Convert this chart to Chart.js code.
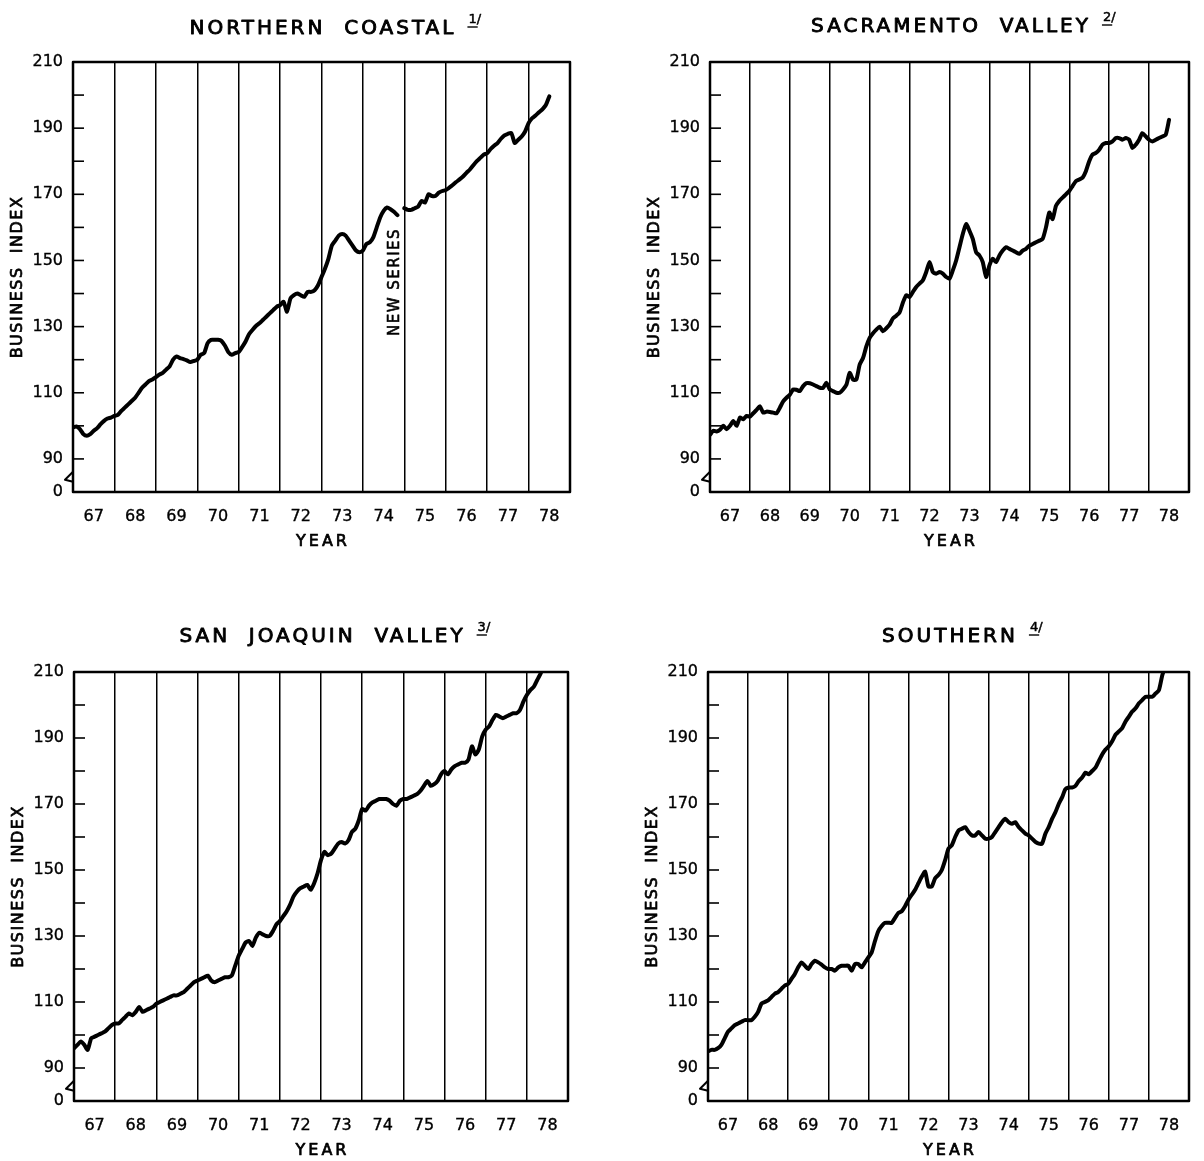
<!DOCTYPE html>
<html>
<head>
<meta charset="utf-8">
<title>Business Index by Region</title>
<script src="https://cdn.jsdelivr.net/npm/chart.js@4.4.0/dist/chart.umd.min.js"></script>
<style>
  body { margin: 0; background: #fff; }
  #wrap { position: relative; width: 1204px; height: 1161px; }
  #wrap canvas { position: absolute; left: 0; top: 0; }
</style>
</head>
<body>
<div id="wrap">
  <canvas id="northern" width="1204" height="1161"></canvas>
  <canvas id="sacramento" width="1204" height="1161"></canvas>
  <canvas id="joaquin" width="1204" height="1161"></canvas>
  <canvas id="southern" width="1204" height="1161"></canvas>
</div>
<script>
// monthly index, January 1967 onwards
var firstYear = 67;
var yearLabels = ['67', '68', '69', '70', '71', '72', '73', '74', '75', '76', '77', '78'];

var northernCoastal = [
  99.5, 99.8, 99, 97.5, 97, 97.5, 98.5, 99.3, 100.5, 101.5, 102.2, 102.5,
  103, 103.3, 104.5, 105.5, 106.5, 107.5, 108.5, 110, 111.5, 112.5, 113.5, 114,
  114.7, 115.5, 116, 117, 118, 120, 121, 120.5, 120.2, 119.8, 119.3, 119.6,
  120, 121.5, 122, 125, 126, 126, 126, 125.7, 124.3, 122.3, 121.5, 122,
  122.3, 123.8, 125.5, 127.7, 129, 130.2, 131, 132, 133, 134, 135, 136,
  136.5, 137.5, 134.5, 138.5, 139.5, 140, 139.5, 139, 140.5, 140.5, 141, 142.5,
  145, 147.5, 150.5, 154.5, 156, 157.5, 158, 157.5, 156, 154.5, 153, 152.5,
  153, 155, 155.5, 157, 160, 163, 165, 166, 165.5, 164.7, 163.7, null,
  165.8, 165.3, 165.3, 165.8, 166.3, 168, 167.5, 170, 169.5, 169.5, 170.5, 171,
  171.3, 172, 172.8, 173.7, 174.5, 175.4, 176.5, 177.5, 178.8, 180, 181, 182,
  182.4, 183.7, 184.7, 185.5, 186.8, 187.8, 188.3, 188.5, 185.5, 186.5, 187.5, 189,
  191.5, 193, 193.8, 194.8, 195.7, 197, 199.6
];

var sacramentoValley = [
  97.3, 98.5, 98.3, 98.8, 100, 99, 100, 101.5, 100, 102.5, 102, 103,
  102.8, 103.8, 104.8, 105.9, 104, 104.3, 104.2, 104, 103.8, 105.5, 107.4, 108.5,
  109.4, 111, 110.9, 110.5, 112, 112.9, 112.9, 112.5, 112, 111.5, 111.5, 113,
  111, 110.5, 110, 110, 111, 112.4, 116, 114, 114, 118.5, 120.5, 124,
  126.6, 128, 129.1, 130, 128.6, 129.5, 130.6, 132.5, 133.3, 134.3, 137.3, 139.5,
  139, 140.5, 142, 143, 144, 146.5, 149.5, 146.5, 146, 146.5, 146, 145,
  144.5, 147, 150, 154, 158, 161, 159, 156.5, 152.5, 151.5, 149.5, 145,
  148.5, 150.5, 149.5, 151.5, 153, 154, 153.5, 153, 152.5, 152, 153, 153.5,
  154.5, 155, 155.5, 156, 156.5, 160, 164.5, 162.5, 166.5, 168, 169, 170,
  171, 172.5, 174, 174.5, 175, 177, 180, 182, 182.5, 183.5, 185, 185.5,
  185.5, 186, 187, 187, 186.5, 187, 186.5, 184, 185, 186.5, 188.5, 187.5,
  186.5, 186, 186.5, 187, 187.5, 188, 192.5
];

var sanJoaquinValley = [
  96, 97, 98, 97, 95.5, 99, 99.5, 100, 100.5, 101, 102, 103,
  103.5, 103.5, 104.5, 105.5, 106.5, 106, 107, 108.5, 107, 107.5, 108, 108.5,
  109.5, 110, 110.5, 111, 111.5, 112, 112, 112.5, 113, 114, 115, 116,
  116.5, 117, 117.5, 118, 116.5, 116, 116.5, 117, 117.5, 117.5, 118, 121,
  124, 126, 128, 128.5, 127, 129.5, 131, 130.5, 130, 130, 131.5, 133.5,
  134.5, 136, 137.5, 139.5, 142, 143.5, 144.5, 145, 145.5, 144, 146, 149,
  153, 155.5, 154.5, 155, 156.5, 158, 158.5, 158, 159, 161.5, 162.5, 165,
  168.5, 168, 169.5, 170.5, 171, 171.5, 171.5, 171.5, 171, 170, 169.5, 171,
  171.5, 171.5, 172, 172.5, 173, 174, 175.5, 177, 175.5, 176, 177, 179,
  180, 179, 180.5, 181.5, 182, 182.5, 182.5, 183.5, 187.5, 185, 186.5, 190.5,
  192.5, 193.5, 195.5, 197, 196.5, 196, 196.5, 197, 197.5, 197.5, 198.5, 201,
  203, 204.5, 205.5, 207.5, 209.5, 212
];

var southernRegion = [
  95, 95.5, 95.5, 96, 97, 99, 101, 102, 103, 103.5, 104, 104.5,
  104.5, 104.5, 105.5, 107, 109.5, 110, 110.5, 111.5, 112.5, 113, 114, 115,
  115.5, 117, 118.5, 120.5, 122, 121, 120, 121.5, 122.5, 122, 121.3, 120.5,
  120, 120, 119.5, 120.5, 121, 121, 121, 119.5, 121.5, 121.5, 120.5, 122,
  123.5, 125, 128.5, 131.5, 133, 134, 134, 134, 135.5, 137, 137.5, 139,
  141, 142.5, 144, 146, 148, 149.5, 145, 145, 147.5, 148.5, 150, 153,
  156.5, 157.5, 160, 162, 162.5, 163, 161.5, 160.5, 160.5, 161.5, 160.5, 159.5,
  159.5, 160, 161.5, 163, 164.5, 165.5, 164.5, 164, 164.5, 163, 162, 161,
  160.5, 159.5, 158.5, 158, 158, 161, 163, 165.5, 167.5, 170, 172, 174.5,
  175, 175, 175.5, 177, 178, 179.5, 179, 180, 181, 183, 185, 186.5,
  187.5, 189, 191, 192, 193, 195, 196.5, 198, 199, 200.5, 201.5, 202.5,
  202.5, 202.5, 203.5, 204.5, 209, 212
];

var ink = '#000';
var font = 'DejaVu Sans, Verdana, sans-serif';

// fill plus a thin outline so the lettering reads heavier
function inkText(ctx, text, x, y, weight) {
  ctx.fillText(text, x, y);
  ctx.lineWidth = weight;
  ctx.strokeText(text, x, y);
}

// draws the frame, inner ticks, axis break and all the lettering
var panelDecor = {
  id: 'panelDecor',
  afterDraw: function(chart) {
    var o = chart.options.plugins.panelDecor;
    var ctx = chart.ctx;
    var a = chart.chartArea;
    var xs = chart.scales.x, ys = chart.scales.y;
    var cx = (a.left + a.right) / 2;
    var cy = (a.top + a.bottom) / 2;

    ctx.save();
    ctx.strokeStyle = ink;
    ctx.fillStyle = ink;
    ctx.lineJoin = 'round';

    ctx.lineWidth = 2.5;
    ctx.strokeRect(a.left, a.top, a.right - a.left, a.bottom - a.top);

    ctx.lineWidth = 1.6;
    for (var v = 90; v < 210; v += 10) {
      var py = ys.getPixelForValue(v);
      ctx.beginPath();
      ctx.moveTo(a.left, py);
      ctx.lineTo(a.left + 11, py);
      ctx.stroke();
    }

    // break in the scale between 0 and 90
    var by = ys.getPixelForValue(84);
    ctx.lineWidth = 2;
    ctx.beginPath();
    ctx.moveTo(a.left, by - 7);
    ctx.lineTo(a.left - 8, by + 1);
    ctx.lineTo(a.left, by + 3);
    ctx.stroke();

    // title with footnote mark
    ctx.font = '20px ' + font;
    ctx.letterSpacing = '3px';
    ctx.textBaseline = 'middle';
    ctx.textAlign = 'left';
    var tw = ctx.measureText(o.title).width - 3;
    var tx = cx - tw / 2;
    inkText(ctx, o.title, tx, o.titleY, 0.9);
    ctx.font = '13px ' + font;
    ctx.letterSpacing = '0px';
    var nx = tx + tw + 15;
    inkText(ctx, o.note, nx, o.titleY - 9, 0.5);
    var oneW = ctx.measureText(o.note.charAt(0)).width;
    ctx.lineWidth = 1.4;
    ctx.beginPath();
    ctx.moveTo(nx - 1, o.titleY - 2);
    ctx.lineTo(nx + oneW + 1, o.titleY - 2);
    ctx.stroke();

    // axis titles
    ctx.font = '16px ' + font;
    ctx.letterSpacing = '3px';
    ctx.textAlign = 'center';
    inkText(ctx, 'YEAR', cx + 1.5, a.bottom + 50, 0.7);

    ctx.save();
    ctx.letterSpacing = '1.5px';
    ctx.translate(a.left - 55, cy);
    ctx.rotate(-Math.PI / 2);
    inkText(ctx, 'BUSINESS  INDEX', 0, 0, 0.7);
    ctx.restore();

    if (o.mark) {
      ctx.save();
      ctx.font = '15px ' + font;
      ctx.letterSpacing = '1.5px';
      ctx.translate(xs.getPixelForValue(o.mark.x), ys.getPixelForValue(o.mark.y));
      ctx.rotate(-Math.PI / 2);
      inkText(ctx, o.mark.text, 0, 0, 0.6);
      ctx.restore();
    }
    ctx.restore();
  }
};

function drawPanel(id, values, title, note, box, titleY, mark) {
  var points = values.map(function(v, i) {
    return { x: firstYear + i / 12, y: v };
  });
  var ctx = document.getElementById(id).getContext('2d');
  return new Chart(ctx, {
    type: 'line',
    data: {
      datasets: [{
        data: points,
        borderColor: ink,
        borderWidth: 4,
        borderJoinStyle: 'round',
        borderCapStyle: 'round',
        pointRadius: 0,
        tension: 0.2,
        fill: false
      }]
    },
    plugins: [panelDecor],
    options: {
      responsive: false,
      animation: false,
      events: [],
      layout: {
        padding: {
          left: box.left - 50,
          top: box.top,
          right: 1204 - box.right,
          bottom: 1161 - box.bottom - 50
        }
      },
      plugins: {
        legend: { display: false },
        tooltip: { enabled: false },
        panelDecor: { title: title, note: note, titleY: titleY, mark: mark }
      },
      scales: {
        x: {
          type: 'linear',
          min: firstYear,
          max: firstYear + yearLabels.length,
          afterFit: function(s) { s.height = 50; },
          border: { display: false },
          grid: {
            drawTicks: false,
            lineWidth: 1.5,
            color: function(c) {
              return (c.tick && c.tick.value % 1 === 0) ? ink : 'rgba(0,0,0,0)';
            }
          },
          ticks: {
            stepSize: 0.5,
            autoSkip: false,
            maxRotation: 0,
            padding: 15,
            color: ink,
            textStrokeColor: ink,
            textStrokeWidth: 0.35,
            font: { family: font, size: 16 },
            callback: function(value) {
              var k = value - firstYear - 0.5;
              if (k % 1 === 0 && k >= 0 && k < yearLabels.length) return yearLabels[k];
              return '';
            }
          }
        },
        y: {
          min: 80,
          max: 210,
          afterFit: function(s) { s.width = 50; },
          border: { display: false },
          grid: { display: false, drawTicks: false },
          ticks: {
            stepSize: 10,
            padding: 10,
            color: ink,
            textStrokeColor: ink,
            textStrokeWidth: 0.35,
            font: { family: font, size: 16 },
            callback: function(value) {
              if (value === 80) return '0';   // broken scale, bottom stands for zero
              return (value - 90) % 20 === 0 ? String(value) : '';
            }
          }
        }
      }
    }
  });
}

drawPanel('northern', northernCoastal, 'NORTHERN  COASTAL', '1/',
  { left: 73, top: 62, right: 570, bottom: 492 }, 29,
  { text: 'NEW SERIES', x: 74.78, y: 143.5 });
drawPanel('sacramento', sacramentoValley, 'SACRAMENTO  VALLEY', '2/',
  { left: 710, top: 62, right: 1202, bottom: 492 }, 27);
drawPanel('joaquin', sanJoaquinValley, 'SAN  JOAQUIN  VALLEY', '3/',
  { left: 74, top: 672, right: 568, bottom: 1101 }, 637);
drawPanel('southern', southernRegion, 'SOUTHERN', '4/',
  { left: 708, top: 672, right: 1198, bottom: 1101 }, 637);
</script>
</body>
</html>
